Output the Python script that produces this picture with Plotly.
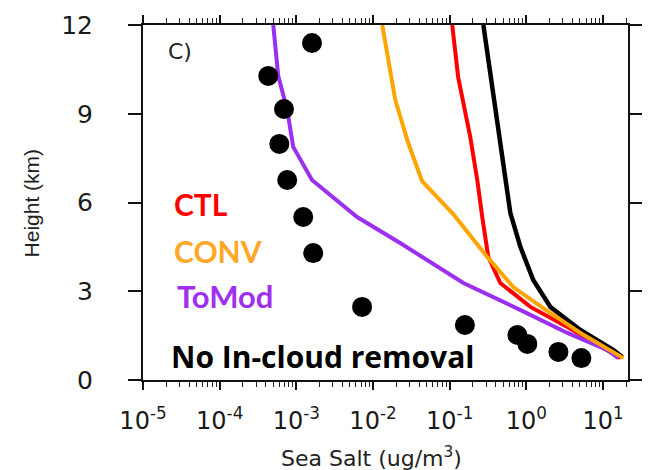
import plotly.graph_objects as go

# ---------------- data ----------------
ctl_h = [12.0, 10.24, 8.2, 6.76, 5.48, 4.16, 3.28, 2.47, 1.79, 0.91, 0.74]
ctl_v = [0.108, 0.129, 0.186, 0.229, 0.267, 0.319, 0.457, 1.13, 3.43, 13.7, 16.9]

conv_h = [12.0, 9.47, 8.01, 6.72, 5.60, 4.16, 3.14, 2.43, 1.59, 0.74]
conv_v = [0.0132, 0.0195, 0.0288, 0.0437, 0.112, 0.309, 0.676, 1.66, 5.07, 18.5]

tomod_h = [12.0, 10.28, 9.13, 7.88, 6.76, 5.51, 4.63, 3.28, 2.37, 1.59, 1.01, 0.74]
tomod_v = [5.0e-4, 5.8e-4, 7.6e-4, 9.1e-4, 1.6e-3, 6.2e-3, 0.0226, 0.151, 0.83, 3.43, 11.5, 15.8]

nocloud_h = [12.0, 10.24, 8.01, 6.76, 5.65, 4.50, 3.38, 2.47, 1.69, 1.01, 0.78]
nocloud_v = [0.275, 0.345, 0.46, 0.532, 0.618, 0.836, 1.23, 2.06, 5.07, 13.7, 17.9]

obs_h = [11.39, 10.28, 9.16, 7.98, 6.76, 5.51, 4.29, 2.47, 1.86, 1.52, 1.22, 0.95, 0.74]
obs_v = [1.6e-3, 4.3e-4, 6.9e-4, 6.0e-4, 7.6e-4, 1.23e-3, 1.66e-3, 7.2e-3, 0.158, 0.764, 1.03, 2.62, 5.22]

x_tickvals = [1e-5, 1e-4, 1e-3, 1e-2, 1e-1, 1e0, 1e1]
x_ticktext = ["10<sup>-5</sup>", "10<sup>-4</sup>", "10<sup>-3</sup>", "10<sup>-2</sup>",
              "10<sup>-1</sup>", "10<sup>0</sup>", "10<sup>1</sup>"]
y_tickvals = [0, 3, 6, 9, 12]

labels = ["CTL", "CONV", "ToMod", "No In-cloud removal"]
label_colors = ["#ff0000", "#ffa726", "#a02ff0", "#000000"]

# ---------------- figure ----------------
fig = go.Figure()
fig.add_trace(go.Scatter(x=nocloud_v, y=nocloud_h, mode="lines",
                         line=dict(color="#000000", width=4.5), name=labels[3]))
fig.add_trace(go.Scatter(x=ctl_v, y=ctl_h, mode="lines",
                         line=dict(color="#ff0000", width=4), name=labels[0]))
fig.add_trace(go.Scatter(x=tomod_v, y=tomod_h, mode="lines",
                         line=dict(color="#9b30f0", width=4), name=labels[2]))
fig.add_trace(go.Scatter(x=conv_v, y=conv_h, mode="lines",
                         line=dict(color="#ffa500", width=4), name=labels[1]))
fig.add_trace(go.Scatter(x=obs_v, y=obs_h, mode="markers",
                         marker=dict(color="#000000", size=20), name="Obs"))

tickfont = dict(family="DejaVu Sans", color="#1a1a1a")

fig.update_xaxes(type="log", range=[-5, 1.326], automargin=False,
                 tickmode="array", tickvals=x_tickvals, ticktext=x_ticktext,
                 tickfont=dict(size=24, **tickfont),
                 ticks="outside", ticklen=8, tickwidth=2, tickcolor="#111",
                 minor=dict(ticks="outside", ticklen=5, tickwidth=1.3, tickcolor="#222", dtick="D1"),
                 showline=True, linewidth=2, linecolor="#111", mirror="ticks",
                 showgrid=False, zeroline=False, ticklabelstandoff=10)
fig.update_yaxes(range=[0, 12], tickmode="array", tickvals=y_tickvals, automargin=False,
                 tickfont=dict(size=25, **tickfont),
                 ticks="outside", ticklen=13, tickwidth=2, tickcolor="#111",
                 showline=True, linewidth=2, linecolor="#111", mirror="ticks",
                 showgrid=False, zeroline=False, ticklabelstandoff=30)

ann = []
label_y = [5.95, 4.36, 2.84, 0.78]
label_x = [0.060, 0.060, 0.066, 0.054]
label_size = [30, 30, 31, 30]
label_font = ["Lato", "Lato", "Lato", "Open Sans"]
for t, c, xx, yy, s, f in zip(labels, label_colors, label_x, label_y, label_size, label_font):
    ann.append(dict(text="<b>%s</b>" % t, x=xx, y=yy, xref="paper", yref="y",
                    xanchor="left", yanchor="middle", showarrow=False,
                    font=dict(family=f, size=s, color=c)))
ann.append(dict(text="C)", x=0.047, y=11.09, xref="paper", yref="y",
                xanchor="left", yanchor="middle", showarrow=False,
                font=dict(family="DejaVu Sans", size=22, color="#222")))
ann.append(dict(text="Sea Salt (ug/m<sup>3</sup>)", x=0.472, y=-0.217, xref="paper", yref="paper",
                xanchor="center", yanchor="middle", showarrow=False,
                font=dict(family="DejaVu Sans", size=22, color="#222")))
ann.append(dict(text="Height (km)", x=-0.229, y=0.5, xref="paper", yref="paper",
                xanchor="center", yanchor="middle", showarrow=False, textangle=-90,
                font=dict(family="Liberation Sans", size=21, color="#222")))
fig.update_layout(annotations=ann)

# tick marks of the cropped neighbouring panel at the far left edge
for v in y_tickvals:
    fig.add_shape(type="line", xref="paper", yref="y", x0=-0.295, x1=-0.280, y0=v, y1=v,
                  line=dict(color="#333", width=2))

# page body has an 8px margin: the figure is drawn offset by (8, 8)
fig.update_layout(width=642, height=462, showlegend=False,
                  margin=dict(l=135, r=22, t=17, b=90),
                  plot_bgcolor="white", paper_bgcolor="white")

fig.write_html("out.html")
